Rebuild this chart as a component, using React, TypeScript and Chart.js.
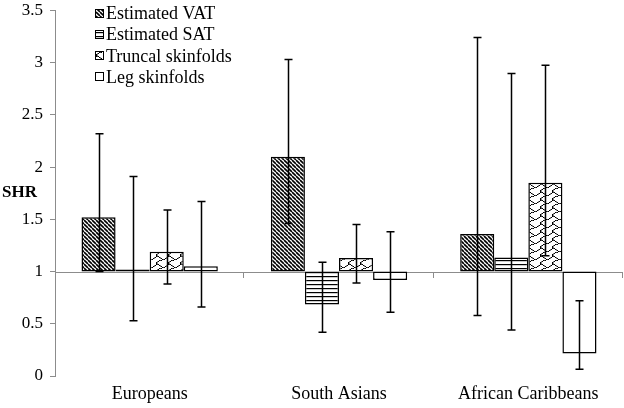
import React, { useEffect, useRef } from "react";
import { Chart, registerables } from "chart.js";

Chart.register(...registerables);

const categories = ["Europeans", "South Asians", "African Caribbeans"];
const seriesLabels = ["Estimated VAT", "Estimated SAT", "Truncal skinfolds", "Leg skinfolds"];

const vatValues = [1.52, 2.1, 1.36];
const vatLow = [1.0, 1.46, 0.58];
const vatHigh = [2.32, 3.03, 3.24];

const satValues = [1.02, 0.685, 1.135];
const satLow = [0.53, 0.42, 0.44];
const satHigh = [1.91, 1.09, 2.895];

const truncalValues = [1.19, 1.13, 1.85];
const truncalLow = [0.88, 0.89, 1.15];
const truncalHigh = [1.59, 1.45, 2.975];

const legValues = [1.05, 0.92, 0.215];
const legLow = [0.66, 0.61, 0.064];
const legHigh = [1.67, 1.38, 0.72];

const baseValue = 1;
const yTicks = { min: 0, max: 3.5, step: 0.5 };

const FONT = '"Liberation Serif", "Times New Roman", serif';

const SHINGLE_BITS = [0x03, 0x84, 0x48, 0x30, 0x0c, 0x02, 0x01, 0x01];

function makePattern(kind: string): CanvasPattern | string {
  const c = document.createElement("canvas");
  const ctx = c.getContext("2d")!;
  if (kind === "diag") {
    const s = 4;
    c.width = s;
    c.height = s;
    ctx.fillStyle = "#fff";
    ctx.fillRect(0, 0, s, s);
    ctx.strokeStyle = "#000";
    ctx.lineWidth = 1.6;
    for (const k of [-s, 0, s]) {
      ctx.beginPath();
      ctx.moveTo(k, 0);
      ctx.lineTo(k + s, s);
      ctx.stroke();
    }
  } else if (kind === "horiz") {
    c.width = 8;
    c.height = 4;
    ctx.fillStyle = "#fff";
    ctx.fillRect(0, 0, 8, 4);
    ctx.fillStyle = "#000";
    ctx.fillRect(0, 0, 8, 1.2);
  } else if (kind === "shingle") {
    const sx = 1.5, sy = 1;
    c.width = 12;
    c.height = 8;
    ctx.fillStyle = "#fff";
    ctx.fillRect(0, 0, 12, 8);
    ctx.fillStyle = "#000";
    SHINGLE_BITS.forEach((row, r) => {
      for (let col = 0; col < 8; col++) {
        if (row & (0x80 >> col)) ctx.fillRect((7 - col) * sx, r * sy, sx, sy);
      }
    });
  } else {
    return "#ffffff";
  }
  return ctx.createPattern(c, "repeat")!;
}

export default function App() {
  const ref = useRef<HTMLCanvasElement>(null);

  useEffect(() => {
    document.body.style.margin = "0";
    const fills = [makePattern("diag"), makePattern("horiz"), makePattern("shingle"), makePattern("none")];
    const values = [vatValues, satValues, truncalValues, legValues];
    const lows = [vatLow, satLow, truncalLow, legLow];
    const highs = [vatHigh, satHigh, truncalHigh, legHigh];

    const baselinePlugin = {
      id: "baseline",
      beforeDatasetsDraw(chart: any) {
        const { ctx, chartArea, scales } = chart;
        const y = scales.y.getPixelForValue(baseValue);
        ctx.save();
        ctx.strokeStyle = "#8c8c8c";
        ctx.lineWidth = 1;
        ctx.beginPath();
        ctx.moveTo(chartArea.left, Math.round(y) + 0.5);
        ctx.lineTo(chartArea.right, Math.round(y) + 0.5);
        const n = categories.length;
        const w = (chartArea.right - chartArea.left) / n;
        for (let k = 1; k <= n; k++) {
          const x = Math.round(chartArea.left + k * w) - 0.5;
          ctx.moveTo(x, Math.round(y));
          ctx.lineTo(x, Math.round(y) + 6);
        }
        ctx.stroke();
        ctx.restore();
      },
    };

    const errorPlugin = {
      id: "errbars",
      afterDatasetsDraw(chart: any) {
        const { ctx, scales } = chart;
        ctx.save();
        ctx.strokeStyle = "#000";
        ctx.lineWidth = 1.5;
        chart.data.datasets.forEach((ds: any, di: number) => {
          const meta = chart.getDatasetMeta(di);
          meta.data.forEach((el: any, i: number) => {
            const x = Math.round(el.x) + 0.5;
            const yl = scales.y.getPixelForValue(lows[di][i]);
            const yh = scales.y.getPixelForValue(highs[di][i]);
            const cap = 4;
            ctx.beginPath();
            ctx.moveTo(x, yl);
            ctx.lineTo(x, yh);
            ctx.moveTo(x - cap, yh);
            ctx.lineTo(x + cap, yh);
            ctx.moveTo(x - cap, yl);
            ctx.lineTo(x + cap, yl);
            ctx.stroke();
          });
        });
        ctx.restore();
      },
    };

    const legendPlugin = {
      id: "customLegend",
      afterDraw(chart: any) {
        const { ctx } = chart;
        ctx.save();
        ctx.font = `18px ${FONT}`;
        ctx.textBaseline = "middle";
        chart.data.datasets.forEach((ds: any, i: number) => {
          const cy = 13.5 + i * 21.2;
          ctx.fillStyle = ds.backgroundColor;
          ctx.fillRect(95, Math.round(cy) - 5, 9, 9);
          ctx.strokeStyle = "#000";
          ctx.lineWidth = 1;
          ctx.strokeRect(95.5, Math.round(cy) - 4.5, 8, 8);
          ctx.fillStyle = "#000";
          ctx.fillText(ds.label, 106, cy + 1);
        });
        ctx.font = `bold 17px ${FONT}`;
        ctx.textBaseline = "middle";
        ctx.fillText("SHR", 2, 193);
        ctx.restore();
      },
    };

    const chart = new Chart(ref.current!, {
      type: "bar",
      data: {
        labels: categories,
        datasets: seriesLabels.map((label, di) => ({
          label,
          data: values[di].map((v) => [baseValue, v]) as any,
          backgroundColor: fills[di] as any,
          borderColor: "#000",
          borderWidth: 1.5,
          borderSkipped: false,
          categoryPercentage: 0.72,
          barPercentage: 1,
        })),
      },
      options: {
        responsive: false,
        animation: false,
        devicePixelRatio: 1,
        layout: { padding: { top: 8, right: 1, bottom: 0, left: 0 } },
        plugins: { legend: { display: false }, tooltip: { enabled: false } },
        scales: {
          x: {
            grid: { display: false, drawTicks: false },
            border: { display: false },
            ticks: { color: "#000", font: { family: FONT, size: 18 }, padding: 7 },
            afterFit(scale: any) {
              scale.height = 32;
            },
          },
          y: {
            min: yTicks.min,
            max: yTicks.max,
            ticks: {
              stepSize: yTicks.step,
              color: "#000",
              font: { family: FONT, size: 17, lineHeight: 0.4 },
              padding: 7,
              callback: (v: any) => String(v),
            },
            grid: { drawOnChartArea: false, drawTicks: true, tickLength: 5, color: "#8c8c8c" },
            border: { display: true, color: "#8c8c8c", width: 1 },
            afterFit(scale: any) {
              scale.width = 55;
            },
          },
        },
      },
      plugins: [baselinePlugin, errorPlugin, legendPlugin],
    });
    return () => chart.destroy();
  }, []);

  return (
    <div style={{ width: 624, height: 408 }}>
      <canvas ref={ref} width={624} height={408} style={{ display: "block" }} />
    </div>
  );
}
